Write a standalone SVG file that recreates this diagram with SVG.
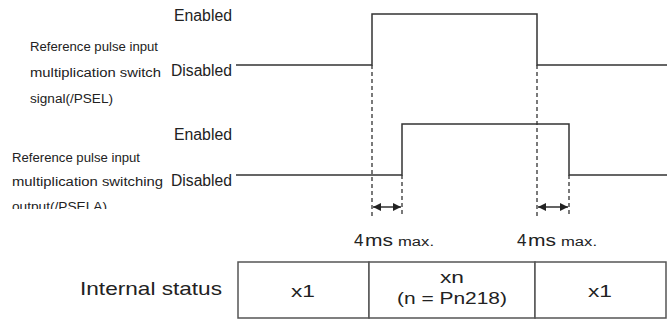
<svg xmlns="http://www.w3.org/2000/svg" width="667" height="320" viewBox="0 0 667 320">
<style>
text{font-family:"Liberation Sans","DejaVu Sans",sans-serif;fill:#222}
.lbl{font-size:16px}
.sm{font-size:12.5px}
.sig{fill:none;stroke:#333;stroke-width:1.5}
.dash{fill:none;stroke:#333;stroke-width:1.3;stroke-dasharray:4 3}
.arr{fill:none;stroke:#222;stroke-width:1.4;marker-start:url(#ah);marker-end:url(#ah)}
.cell{fill:#fff;stroke:#555;stroke-width:1.5}
.big{font-size:17px}
.mx{font-size:12.5px}
.tc{text-anchor:middle}
</style>
<defs>
<marker id="ah" viewBox="0 0 10 10" refX="10" refY="5" markerWidth="8" markerHeight="8" markerUnits="userSpaceOnUse" orient="auto-start-reverse">
<path d="M0,0 L10,5 L0,10 z" fill="#222"/>
</marker>
<clipPath id="clipOut"><rect x="0" y="0" width="240" height="209"/></clipPath>
</defs>

<g id="psel">
<text class="lbl" x="174" y="21" textLength="58" lengthAdjust="spacingAndGlyphs">Enabled</text>
<text class="lbl" x="171" y="76" textLength="61" lengthAdjust="spacingAndGlyphs">Disabled</text>
<text class="sm" x="30" y="51" textLength="128" lengthAdjust="spacingAndGlyphs">Reference pulse input</text>
<text class="sm" x="30" y="77" textLength="131" lengthAdjust="spacingAndGlyphs">multiplication switch</text>
<text class="sm" x="30" y="103" textLength="83" lengthAdjust="spacingAndGlyphs">signal(/PSEL)</text>
<path class="sig" d="M236,65 H372 V14 H537 V65 H667"/>
</g>

<g id="psela">
<text class="lbl" x="174" y="140" textLength="58" lengthAdjust="spacingAndGlyphs">Enabled</text>
<text class="lbl" x="171" y="186" textLength="61" lengthAdjust="spacingAndGlyphs">Disabled</text>
<text class="sm" x="12" y="162" textLength="128" lengthAdjust="spacingAndGlyphs">Reference pulse input</text>
<text class="sm" x="12" y="186" textLength="151" lengthAdjust="spacingAndGlyphs">multiplication switching</text>
<text class="sm" x="12" y="211" textLength="95" lengthAdjust="spacingAndGlyphs" clip-path="url(#clipOut)">output(/PSELA)</text>
<path class="sig" d="M236,175 H402 V124 H569 V175 H667"/>
</g>

<g id="connectors">
<path class="dash" d="M372,65 V217 M537,65 V217 M402,175 V217 M569,175 V217"/>
<path class="arr" d="M373,207 H401"/>
<path class="arr" d="M538,207 H568"/>
</g>

<g id="delay1">
<text x="354" y="246"><tspan class="big">4</tspan><tspan class="big" x="365" textLength="28" lengthAdjust="spacingAndGlyphs">ms</tspan><tspan class="mx" x="398" textLength="36" lengthAdjust="spacingAndGlyphs">max.</tspan></text>
</g>
<g id="delay2">
<text x="517" y="246"><tspan class="big">4</tspan><tspan class="big" x="528" textLength="28" lengthAdjust="spacingAndGlyphs">ms</tspan><tspan class="mx" x="561" textLength="36" lengthAdjust="spacingAndGlyphs">max.</tspan></text>
</g>

<g id="status">
<text x="80" y="295" font-size="19" textLength="142" lengthAdjust="spacingAndGlyphs">Internal status</text>
<rect class="cell" x="238" y="262" width="131" height="56"/>
<rect class="cell" x="369" y="262" width="166" height="56"/>
<rect class="cell" x="535" y="262" width="131" height="56"/>
<text class="tc" x="303" y="297" font-size="17" textLength="24" lengthAdjust="spacingAndGlyphs">x1</text>
<text class="tc" x="452" y="283" font-size="16" textLength="24" lengthAdjust="spacingAndGlyphs">xn</text>
<text class="tc" x="452" y="304" font-size="16" textLength="110" lengthAdjust="spacingAndGlyphs">(n = Pn218)</text>
<text class="tc" x="600" y="297" font-size="17" textLength="24" lengthAdjust="spacingAndGlyphs">x1</text>
</g>
</svg>
